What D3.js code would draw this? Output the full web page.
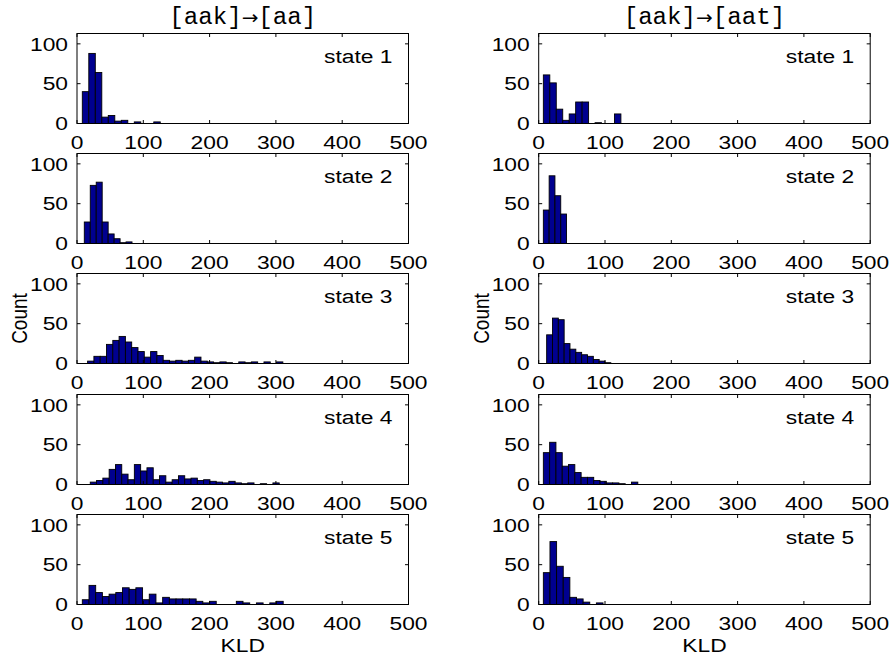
<!DOCTYPE html>
<html>
<head>
<meta charset="utf-8">
<script src="https://cdn.jsdelivr.net/npm/d3@7"></script>
<style>
  body { margin: 0; background: #fff; }
  text { font-family: "Liberation Sans", Arial, sans-serif; fill: #000; }
</style>
</head>
<body>
<div id="chart"></div>
<script>
// ---- data ----
var xTicks = [0, 100, 200, 300, 400, 500];
var yTicks = [0, 50, 100];
var titleFrom = ["[aak]", "[aak]"];
var titleTo = ["[aa]", "[aat]"];
var stateNames = ["state 1", "state 2", "state 3", "state 4", "state 5"];

// [aak]->[aa] : first bin edge, bin width, counts
var aaStart = [8, 11, 16, 20, 8];
var aaStep = [9.8, 9, 9.5, 9.5, 10.1];
var aaCounts1 = [40, 88, 64, 8, 10, 3, 4, 0, 2, 0, 0, 2];
var aaCounts2 = [27, 73, 77, 27, 12, 6, 1, 2];
var aaCounts3 = [3, 9, 9, 24, 29, 34, 27, 20, 15, 8, 15, 10, 4, 3, 4, 3, 4, 8, 3, 2, 1, 2, 1, 0, 2, 1, 2, 0, 2, 0, 2];
var aaCounts4 = [3, 5, 8, 19, 25, 13, 6, 25, 17, 21, 6, 11, 3, 6, 11, 7, 8, 5, 6, 4, 3, 2, 4, 2, 1, 2, 0, 1, 0, 2];
var aaCounts5 = [6, 24, 15, 10, 13, 15, 21, 19, 21, 6, 13, 2, 9, 7, 7, 7, 7, 4, 2, 4, 0, 0, 0, 4, 2, 0, 2, 0, 2, 4];

// [aak]->[aat]
var aatStart = [7, 7, 12, 7, 7];
var aatStep = [9.75, 8.75, 8.8, 9.5, 10];
var aatCounts1 = [61, 51, 18, 4, 12, 27, 27, 0, 1, 0, 0, 12, 0, 0, 0, 0, 0, 0, 0, 0, 0, 0];
var aatCounts2 = [42, 85, 60, 37];
var aatCounts3 = [36, 57, 55, 25, 18, 14, 11, 9, 5, 3, 1];
var aatCounts4 = [40, 53, 40, 23, 25, 15, 9, 9, 5, 4, 2, 2, 1, 0, 3];
var aatCounts5 = [40, 79, 48, 34, 9, 7, 3, 0, 2, 0, 0, 0, 0, 0, 0, 0, 0, 0, 0, 0, 0, 0, 0, 0, 0];

var columns = [
    {start: aaStart, step: aaStep, counts: [aaCounts1, aaCounts2, aaCounts3, aaCounts4, aaCounts5]},
    {start: aatStart, step: aatStep, counts: [aatCounts1, aatCounts2, aatCounts3, aatCounts4, aatCounts5]}
];

// ---- layout ----
var W = 895, H = 658;
var colX = [77, 538.7];
var plotW = 331.5;
var rowY = [33.5, 153.5, 273.5, 394.5, 514.5];
var plotH = 90;
var sx = 1.2;          // the picture is a bit wider than tall, text looks stretched
var fontSize = 19;
var tickLen = 3.5;
var barFill = "#00008f";

var svg = d3.select("#chart").append("svg")
    .attr("width", W)
    .attr("height", H);

function label(g, x, y, str, anchor, size) {
    return g.append("text")
        .attr("transform", "translate(" + x + "," + y + ") scale(" + sx + ",1)")
        .attr("text-anchor", anchor)
        .style("font-size", size + "px")
        .text(str);
}

columns.forEach(function(col, c) {
    var x = d3.scaleLinear().domain([0, 500]).range([colX[c], colX[c] + plotW]);

    col.counts.forEach(function(counts, r) {
        var y = d3.scaleLinear().domain([0, 113]).range([rowY[r] + plotH, rowY[r]]);
        var g = svg.append("g");

        // bars
        g.selectAll("rect.bar")
            .data(counts)
            .enter()
            .append("rect")
            .attr("class", "bar")
            .attr("x", function(d, i) { return x(col.start[r] + i * col.step[r]); })
            .attr("width", function() { return x(col.step[r]) - x(0); })
            .attr("y", function(d) { return y(d); })
            .attr("height", function(d) { return y(0) - y(d); })
            .attr("fill", barFill)
            .attr("stroke", "#000")
            .attr("stroke-width", 0.9);

        // axes box
        g.append("rect")
            .attr("x", x(0))
            .attr("y", y(113))
            .attr("width", x(500) - x(0))
            .attr("height", y(0) - y(113))
            .attr("fill", "none")
            .attr("stroke", "#000")
            .attr("stroke-width", 1);

        // ticks, pointing inward on all four sides
        xTicks.forEach(function(t) {
            g.append("line").attr("x1", x(t)).attr("x2", x(t))
                .attr("y1", y(0)).attr("y2", y(0) - tickLen).attr("stroke", "#000");
            g.append("line").attr("x1", x(t)).attr("x2", x(t))
                .attr("y1", y(113)).attr("y2", y(113) + tickLen).attr("stroke", "#000");
            label(g, x(t), y(0) + 25, t, "middle", fontSize);
        });
        yTicks.forEach(function(t) {
            g.append("line").attr("x1", x(0)).attr("x2", x(0) + tickLen)
                .attr("y1", y(t)).attr("y2", y(t)).attr("stroke", "#000");
            g.append("line").attr("x1", x(500)).attr("x2", x(500) - tickLen)
                .attr("y1", y(t)).attr("y2", y(t)).attr("stroke", "#000");
            label(g, x(0) - 9, y(t) + 6.7, t, "end", fontSize);
        });

        // state name
        label(g, x(500) - 16, rowY[r] + 29, stateNames[r], "end", fontSize);
    });

    // column title: monospace brackets with a full-size arrow
    var title = svg.append("text")
        .attr("transform", "translate(" + (colX[c] + plotW / 2) + ",24) scale(1.05,1)")
        .attr("text-anchor", "middle")
        .style("font-size", "23px")
        .style("font-family", "'Liberation Mono', 'Courier New', monospace");
    title.append("tspan").text(titleFrom[c]);
    title.append("tspan").style("font-family", "'DejaVu Sans', sans-serif").style("font-size", "19px").text("\u2192");
    title.append("tspan").text(titleTo[c]);

    label(svg, (colX[c] + plotW / 2), 652, "KLD", "middle", fontSize);

    svg.append("text")
        .attr("transform", "translate(" + (colX[c] - 50) + "," + (rowY[2] + plotH / 2) + ") scale(" + sx + ",1) rotate(-90)")
        .attr("text-anchor", "middle")
        .style("font-size", fontSize + "px")
        .text("Count");
});
</script>
</body>
</html>
